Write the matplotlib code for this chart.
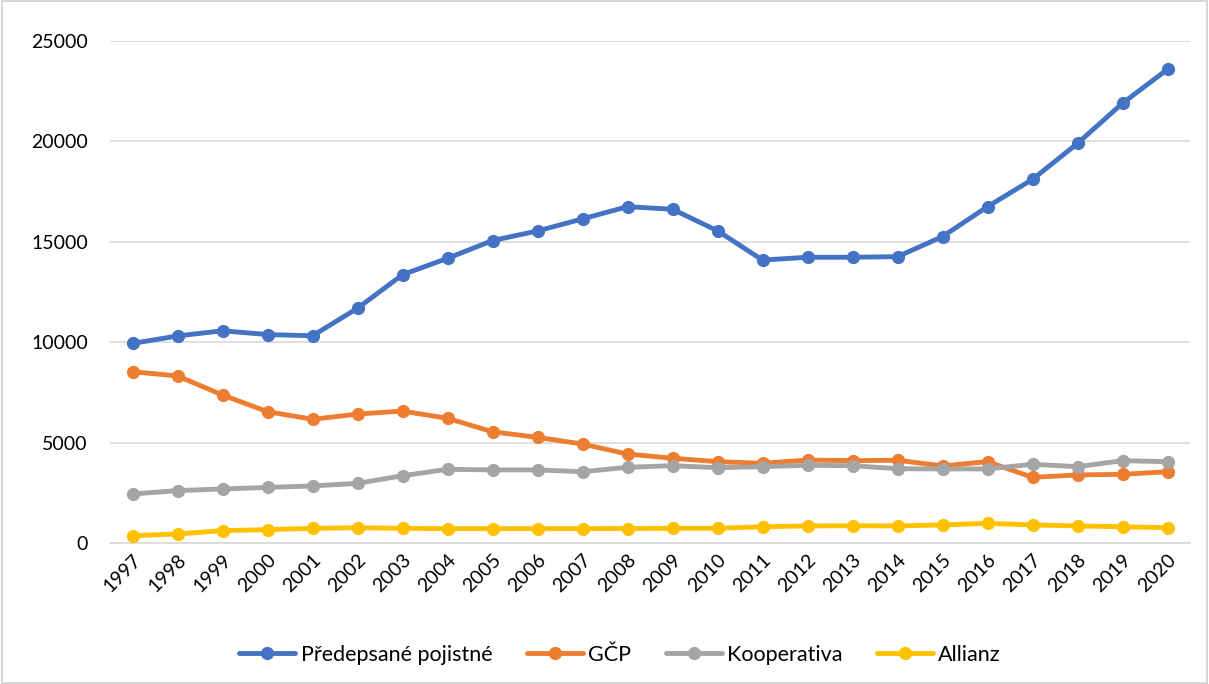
import matplotlib
matplotlib.use("Agg")
import matplotlib.pyplot as plt
from matplotlib.patches import Rectangle

plt.rcParams['font.family'] = ['Lato', 'DejaVu Sans']

years = [str(y) for y in range(1997, 2021)]
predepsane = [9940, 10310, 10570, 10380, 10320, 11690, 13360, 14180, 15060, 15540, 16140, 16750,
              16620, 15550, 14090, 14230, 14230, 14260, 15260, 16750, 18110, 19900, 21900, 23590]
gcp = [8530, 8320, 7370, 6540, 6160, 6420, 6570, 6210, 5540, 5260, 4930, 4430,
       4220, 4050, 3970, 4130, 4100, 4120, 3840, 4050, 3270, 3390, 3420, 3550]
kooperativa = [2440, 2610, 2690, 2770, 2840, 2970, 3350, 3670, 3640, 3640, 3550, 3770,
               3850, 3750, 3800, 3870, 3850, 3700, 3690, 3690, 3920, 3800, 4100, 4050]
allianz = [365, 450, 615, 665, 730, 760, 730, 715, 715, 715, 715, 720,
           730, 730, 810, 850, 860, 850, 900, 980, 900, 850, 810, 760]

series = [
    ("Předepsané pojistné", predepsane, "#4472C4"),
    ("GČP", gcp, "#ED7D31"),
    ("Kooperativa", kooperativa, "#A5A5A5"),
    ("Allianz", allianz, "#FFC000"),
]

fig = plt.figure(figsize=(12.09, 6.84), dpi=100)
ax = fig.add_axes([110/1209, 1-543/684, 1080/1209, 502/684])

x = list(range(len(years)))
for name, vals, col in series:
    ax.plot(x, vals, color=col, lw=3.5, marker='o', markersize=8.5, label=name,
            solid_capstyle='round', zorder=3)

ax.set_xlim(-0.5, len(years) - 0.5)
ax.set_ylim(0, 25000)
ax.set_yticks(range(0, 25001, 5000))
ax.set_yticklabels([str(v) for v in range(0, 25001, 5000)])
ax.set_xticks(x)
ax.set_xticklabels(years, rotation=45, ha='right', rotation_mode='anchor')
ax.grid(axis='y', color='#D9D9D9', lw=1.2, zorder=0)
ax.set_axisbelow(True)
for s in ['top', 'right', 'left']:
    ax.spines[s].set_visible(False)
ax.spines['bottom'].set_color('#D9D9D9')
ax.spines['bottom'].set_linewidth(1.2)
ax.tick_params(axis='both', length=0, labelsize=14, colors='black')
ax.tick_params(axis='y', pad=16)
ax.tick_params(axis='x', pad=6)

ax.legend(loc='center', bbox_to_anchor=(0.513, 1-655/684), bbox_transform=fig.transFigure,
          ncol=4, frameon=False, fontsize=15.5, handlelength=2.6, columnspacing=1.6,
          handletextpad=0.25, markerscale=1.0)

fig.patches.append(Rectangle((0.002, 0.002), 0.996, 0.996, transform=fig.transFigure,
                             fill=False, edgecolor='#D0D0D0', lw=1.2))

fig.savefig("out.png", dpi=100, facecolor='white')
